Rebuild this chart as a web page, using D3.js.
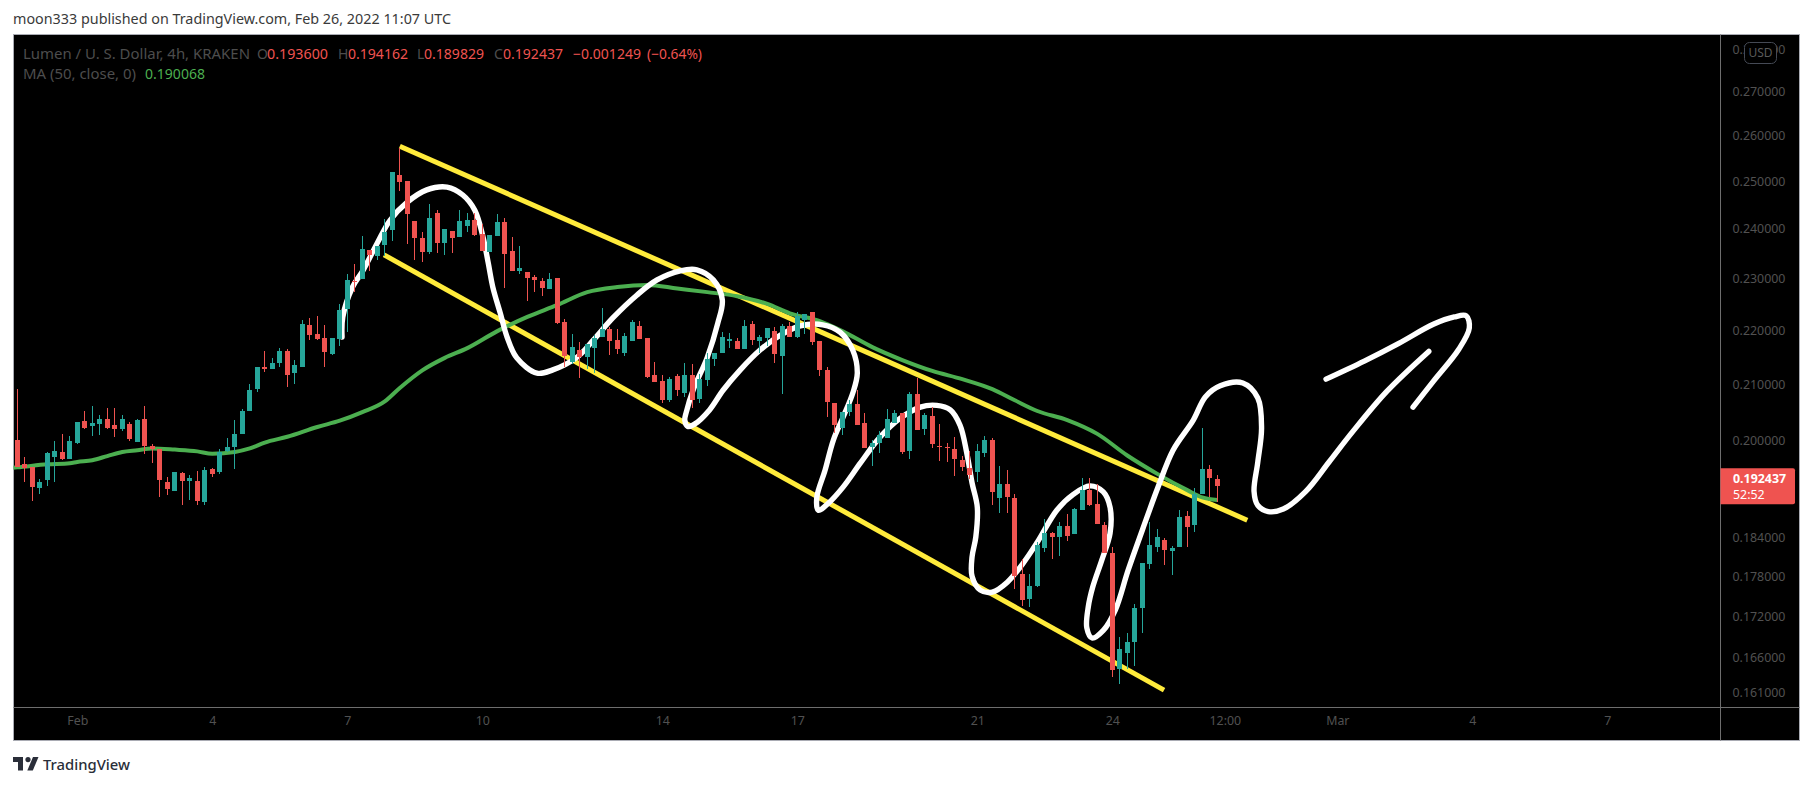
<!DOCTYPE html>
<html><head><meta charset="utf-8">
<script src="https://cdn.jsdelivr.net/npm/d3@7/dist/d3.min.js"></script>
<style>html,body{margin:0;padding:0;background:#fff;overflow:hidden}svg{display:block}text{font-family:"Noto Sans",sans-serif}</style>
</head><body><svg id="c" width="1813" height="786"></svg>
<script>
const candleOpen=[.2001,.1960,.1955,.1920,.1934,.1972,.1981,.1969,.1996,.2034,.2025,.2029,.2038,.2027,.2020,.2029,.1998,.2038,.1991,.1986,.1930,.1915,.1945,.1932,.1932,.1897,.1952,.1947,.1982,.1989,.2012,.2052,.2091,.2131,.2127,.2138,.2160,.2120,.2131,.2210,.2192,.2185,.2155,.2183,.2240,.2295,.2299,.2357,.2345,.2367,.2398,.2514,.2501,.2416,.2381,.2353,.2433,.2371,.2396,.2383,.2406,.2418,.2389,.2353,.2385,.2414,.2355,.2315,.2313,.2303,.2295,.2279,.2301,.2215,.2140,.2162,.2149,.2166,.2187,.2202,.2181,.2157,.2179,.2208,.2185,.2116,.2105,.2071,.2114,.2084,.2116,.2073,.2107,.2146,.2157,.2179,.2179,.2164,.2211,.2179,.2185,.2198,.2151,.2208,.2188,.2219,.2234,.2179,.2126,.2066,.2022,.2050,.2064,.2031,.1989,.1996,.2005,.2031,.2048,.1982,.2082,.2020,.2043,.1992,.1989,.1986,.1967,.1953,.1947,.1979,.2001,.1904,.1927,.1904,.1783,.1745,.1765,.1824,.1847,.1841,.1858,.1846,.1884,.1917,.1894,.1860,.1816,.1643,.1666,.1682,.1732,.1799,.1825,.1836,.1819,.1825,.1875,.1860,.1910,.1952,.1936];
const candleClose=[.1955,.1953,.1922,.1930,.1979,.1982,.1969,.1999,.2033,.2022,.2031,.2038,.2022,.2020,.2038,.2003,.2036,.1991,.1986,.1934,.1919,.1947,.1932,.1937,.1899,.1950,.1944,.1981,.1989,.2012,.2052,.2089,.2131,.2127,.2138,.2160,.2116,.2134,.2211,.2192,.2183,.2159,.2185,.2238,.2297,.2293,.2359,.2347,.2365,.2394,.2520,.2499,.2431,.2381,.2353,.2423,.2371,.2400,.2381,.2416,.2418,.2387,.2355,.2387,.2414,.2349,.2315,.2321,.2301,.2297,.2281,.2299,.2213,.2151,.2168,.2149,.2174,.2185,.2202,.2179,.2164,.2188,.2215,.2183,.2113,.2104,.2070,.2109,.2088,.2116,.2071,.2109,.2146,.2157,.2187,.2183,.2164,.2208,.2181,.2187,.2204,.2155,.2208,.2187,.2227,.2230,.2177,.2126,.2068,.2027,.2050,.2064,.2027,.1987,.1996,.2010,.2038,.2048,.1981,.2082,.2018,.2045,.1994,.1991,.1987,.1969,.1955,.1942,.1982,.2001,.1914,.1927,.1905,.1780,.1744,.1765,.1828,.1847,.1841,.1858,.1842,.1886,.1917,.1892,.1862,.1816,.1642,.1672,.1682,.1732,.1800,.1828,.1841,.1820,.1824,.1873,.1858,.1910,.1952,.1937,.192437];
const candleHigh=[.2091,.1972,.1955,.1935,.1981,.1999,.2012,.2008,.2033,.2052,.2061,.2045,.2057,.2057,.2045,.2033,.2038,.2061,.1994,.1986,.1938,.1947,.1947,.1942,.1949,.1955,.1953,.1986,.2005,.2036,.2055,.2100,.2131,.2160,.2148,.2166,.2164,.2144,.2219,.2223,.2227,.2210,.2185,.2250,.2309,.2329,.2385,.2357,.2365,.2421,.2520,.2573,.2501,.2416,.2394,.2452,.2439,.2400,.2396,.2439,.2433,.2433,.2410,.2387,.2431,.2423,.2383,.2365,.2313,.2307,.2301,.2311,.2301,.2221,.2192,.2177,.2174,.2190,.2242,.2206,.2202,.2194,.2219,.2217,.2185,.2140,.2116,.2113,.2118,.2138,.2136,.2118,.2157,.2157,.2196,.2194,.2185,.2219,.2217,.2190,.2204,.2206,.2211,.2215,.2234,.2230,.2234,.2179,.2131,.2066,.2050,.2071,.2089,.2048,.2001,.2017,.2055,.2054,.2048,.2086,.2111,.2048,.2059,.2029,.1996,.2006,.1974,.1982,.1994,.2008,.2005,.1957,.1950,.1910,.1806,.1783,.1833,.1870,.1849,.1865,.1878,.1887,.1937,.1937,.1927,.1865,.1825,.1690,.1696,.1738,.1800,.1865,.1854,.1839,.1827,.1884,.1883,.1920,.2022,.1959,.194162];
const candleLow=[.1955,.1930,.1899,.1910,.1923,.1930,.1967,.1969,.1994,.2020,.2008,.2010,.2020,.2006,.2017,.1999,.1998,.1977,.1962,.1905,.1909,.1915,.1892,.1900,.1892,.1892,.1938,.1944,.1981,.1952,.2012,.2052,.2086,.2122,.2127,.2131,.2095,.2100,.2131,.2181,.2181,.2131,.2153,.2170,.2196,.2273,.2299,.2315,.2337,.2345,.2375,.2479,.2369,.2337,.2333,.2349,.2351,.2347,.2351,.2383,.2394,.2385,.2355,.2353,.2385,.2281,.2315,.2309,.2256,.2273,.2265,.2279,.2211,.2131,.2136,.2111,.2127,.2120,.2187,.2153,.2155,.2151,.2179,.2183,.2111,.2104,.2066,.2068,.2079,.2077,.2057,.2066,.2096,.2133,.2157,.2166,.2164,.2164,.2172,.2157,.2170,.2138,.2082,.2187,.2185,.2192,.2172,.2114,.2041,.2013,.2010,.2043,.2027,.1987,.1957,.1979,.2005,.2031,.1977,.1969,.2018,.2010,.1987,.1965,.1964,.1940,.1949,.1935,.1930,.1972,.1892,.1879,.1879,.1760,.1735,.1733,.1764,.1817,.1806,.1812,.1835,.1846,.1884,.1891,.1862,.1816,.1632,.1622,.1643,.1648,.1696,.1792,.1817,.1797,.1782,.1825,.1825,.1849,.1910,.1905,.189829];

const maIndex=[-1,0,4,7,8,10,12,14,16,18,21,24,26,29,31,33,36,40,43,46,49,51,54,57,60,64,68,72,76,80,84,88,92,96,100,103,107,110,114,118,122,126,130,133,136,140,144,148,152,156,158,160];
const maValue=[.1954,.1955,.1960,.1962,.1964,.1967,.1974,.1981,.1984,.1987,.1985,.1982,.1978,.1981,.1987,.1997,.2007,.2024,.2035,.2050,.2069,.2093,.2125,.2148,.2166,.2198,.2225,.2248,.2273,.2283,.2287,.2280,.2273,.2265,.2250,.2232,.2217,.2198,.2168,.2144,.2124,.2109,.2091,.2071,.2052,.2036,.2012,.1975,.1944,.1917,.1905,.190068];

const upperTrendIndex=[51.0,164.0], upperTrendPrice=[.2577,.1868];
const lowerTrendIndex=[48.9,152.9], lowerTrendPrice=[.2347,.1614];

const sketchIndex=[43.3,43.4,44.7,46.1,48.0,49.7,52.0,54.6,57.3,59.4,61.0,62.1,62.8,63.4,64.4,65.3,66.6,69.3,71.4,74.6,76.8,79.4,82.6,85.3,88.4,90.6,92.8,94.0,93.4,92.0,90.1,89.2,89.0,89.4,90.3,92.3,94.1,96.4,99.0,101.7,104.4,107.4,109.7,111.4,112.0,111.4,110.1,108.8,107.7,106.6,106.8,108.1,110.1,112.4,115.0,117.7,120.4,122.6,124.4,125.7,126.6,127.3,128.0,127.8,127.3,127.3,128.4,130.0,132.0,134.1,136.0,138.6,140.8,143.0,144.8,145.7,145.7,144.6,143.4,142.8,142.6,143.3,144.8,146.4,148.1,150.0,152.1,154.1,156.8,158.4,160.4,163.4,165.4,165.9,165.4,164.9,165.4,166.8,168.8,171.8,174.9,178.0,182.6,188.2];
const sketchPrice=[.2187,.2225,.2283,.2316,.2371,.2418,.2456,.2482,.2488,.2471,.2439,.2383,.2330,.2283,.2232,.2187,.2148,.2120,.2126,.2149,.2181,.2223,.2267,.2297,.2315,.2317,.2297,.2258,.2213,.2149,.2089,.2050,.2036,.2025,.2029,.2054,.2089,.2126,.2162,.2190,.2208,.2210,.2196,.2162,.2120,.2084,.2041,.2001,.1950,.1905,.1884,.1895,.1922,.1962,.2006,.2039,.2059,.2062,.2054,.2027,.1979,.1929,.1889,.1841,.1810,.1780,.1759,.1756,.1771,.1800,.1833,.1884,.1910,.1924,.1914,.1889,.1847,.1805,.1764,.1734,.1703,.1688,.1699,.1729,.1789,.1852,.1922,.1984,.2036,.2077,.2097,.2102,.2075,.2022,.1964,.1915,.1892,.1882,.1886,.1915,.1964,.2015,.2087,.2160];
const arrowIndex=[174.5,179.6,184.2,188.8,191.6,193.2,193.6,192.2,188.8,186.1];
const arrowPrice=[.2109,.2142,.2175,.2211,.2225,.2227,.2204,.2164,.2105,.2059];

const priceTicks=[.28,.27,.26,.25,.24,.23,.22,.21,.20,.184,.178,.172,.166,.161];
const timeTickIndex=[8,26,44,62,86,104,128,146,161,176,194,212];
const timeTickLabel=["Feb","4","7","10","14","17","21","24","12:00","Mar","4","7"];
const lastPrice=.192437, countdown="52:52";
const publishedLine="moon333 published on TradingView.com, Feb 26, 2022 11:07 UTC";

const W=1813,H=786,L=13.5,T=34.5,R=1799.5,B=740.5,AX=1720.5,AY=707.5;
const svg=d3.select("#c");
const x=d3.scaleLinear().domain([0,161]).range([17.3,1224.8]);
const y=d3.scaleLog().domain([.27,.161]).range([92,693]);

svg.append("text").attr("x",13).attr("y",24).attr("font-size",14).attr("fill","#3a3a3a").attr("textLength",438).attr("lengthAdjust","spacingAndGlyphs").text(publishedLine);
svg.append("rect").attr("x",L).attr("y",T).attr("width",R-L).attr("height",B-T).attr("fill","#000").attr("stroke","#a9abb3");
svg.append("defs").append("clipPath").attr("id","plot").append("rect").attr("x",L).attr("y",T).attr("width",AX-L).attr("height",AY-T);
svg.append("line").attr("x1",AX).attr("x2",AX).attr("y1",T).attr("y2",B).attr("stroke","#6e6e6e");
svg.append("line").attr("x1",L).attr("x2",R).attr("y1",AY).attr("y2",AY).attr("stroke","#6e6e6e");

const plot=svg.append("g").attr("clip-path","url(#plot)");
const pairs=(a,b)=>a.map((v,k)=>[v,b[k]]);
const ln=d3.line().x(d=>x(d[0])).y(d=>y(d[1]));
const trend=plot.append("g").attr("stroke","#ffeb3b").attr("stroke-width",5).attr("fill","none");
trend.append("path").attr("d",ln(pairs(upperTrendIndex,upperTrendPrice)));
trend.append("path").attr("d",ln(pairs(lowerTrendIndex,lowerTrendPrice)));
plot.append("path").attr("d",ln.curve(d3.curveMonotoneX)(pairs(maIndex,maValue))).attr("fill","none").attr("stroke","#4caf50").attr("stroke-width",4);
const cr=d3.line().x(d=>x(d[0])).y(d=>y(d[1])).curve(d3.curveCatmullRom.alpha(0.5));
for(const [a,b] of [[sketchIndex,sketchPrice],[arrowIndex,arrowPrice]])
  plot.append("path").attr("d",cr(pairs(a,b))).attr("fill","none").attr("stroke","#fff").attr("stroke-width",5.4).attr("stroke-linecap","round").attr("stroke-linejoin","round");

const col=i=>candleClose[i]>=candleOpen[i]?"#26a69a":"#ef5350";
const cg=plot.append("g").attr("shape-rendering","crispEdges");
const idx=d3.range(candleOpen.length);
cg.selectAll("line").data(idx).join("line")
  .attr("x1",i=>Math.floor(x(i))+.5).attr("x2",i=>Math.floor(x(i))+.5)
  .attr("y1",i=>y(candleHigh[i])).attr("y2",i=>y(candleLow[i])).attr("stroke",col);
cg.selectAll("rect").data(idx).join("rect")
  .attr("x",i=>Math.floor(x(i))-2).attr("width",5)
  .attr("y",i=>Math.round(Math.min(y(candleOpen[i]),y(candleClose[i]))))
  .attr("height",i=>Math.max(1,Math.round(Math.abs(y(candleOpen[i])-y(candleClose[i])))))
  .attr("fill",col);

// axes
const ya=svg.append("g").attr("transform",`translate(${AX},0)`).call(d3.axisRight(y).tickValues(priceTicks).tickSize(0).tickPadding(12).tickFormat(d3.format(".6f")));
ya.select(".domain").remove();
ya.selectAll("text").attr("font-size",12.4).attr("fill","#515151").style("font-family",'"Noto Sans",sans-serif');
const xa=svg.append("g").attr("transform",`translate(0,${AY})`).call(d3.axisBottom(x).tickValues(timeTickIndex).tickSize(0).tickPadding(9).tickFormat((d,i)=>timeTickLabel[i]));
xa.select(".domain").remove();
xa.selectAll("text").attr("font-size",12.4).attr("fill","#515151").style("font-family",'"Noto Sans",sans-serif');

// USD badge
svg.append("rect").attr("x",1744.5).attr("y",42.5).attr("width",32).attr("height",21).attr("rx",5).attr("fill","#000").attr("stroke","#454a55");
svg.append("text").attr("x",1760.5).attr("y",57).attr("text-anchor","middle").attr("font-size",12).attr("fill","#5a5a5a").text("USD");

// last price label
const ly=y(lastPrice);
svg.append("path").attr("d",`M${AX} ${ly-17.5}H1793a2 2 0 0 1 2 2V${ly+16.5}a2 2 0 0 1 -2 2H${AX}Z`).attr("fill","#ef5350");
svg.append("text").attr("x",1733).attr("y",ly-3).attr("font-size",12.4).attr("font-weight",700).attr("fill","#fff").text(lastPrice.toFixed(6));
svg.append("text").attr("x",1733).attr("y",ly+13).attr("font-size",12.4).attr("fill","#fff").text(countdown);

// legend
const grey="#4d4d4d",red="#ef5350";
const leg=(tx,px,c,row=0,len=0)=>{const t=svg.append("text").attr("x",px).attr("y",row?79:59).attr("font-size",14).attr("fill",c).text(tx);if(len)t.attr("textLength",len).attr("lengthAdjust","spacingAndGlyphs");};
leg("Lumen / U. S. Dollar, 4h, KRAKEN",23,grey,0,227);
leg("O",257,grey);leg("0.193600",267,red,0,61);
leg("H",338,grey);leg("0.194162",348,red,0,60);
leg("L",417,grey);leg("0.189829",424,red,0,60);
leg("C",494,grey);leg("0.192437",503,red,0,60);
leg("−0.001249",573,red,0,68);leg("(−0.64%)",647,red,0,55);
leg("MA (50, close, 0)",23,grey,1,113);leg("0.190068",145,"#4caf50",1,60);

// footer logo
const fg=svg.append("g").attr("fill","#2a2e39");
fg.append("path").attr("d","M13 757h10v13.5h-5v-8.5H13z");
fg.append("circle").attr("cx",28).attr("cy",759.6).attr("r",2.6);
fg.append("path").attr("d","M33 757h5.5l-5.7 13.5h-5.5z");
fg.append("text").attr("x",43).attr("y",769.5).attr("font-size",14.5).attr("font-weight",500).attr("fill","#2a2e39").attr("textLength",87).attr("lengthAdjust","spacingAndGlyphs").text("TradingView");
</script></body></html>
